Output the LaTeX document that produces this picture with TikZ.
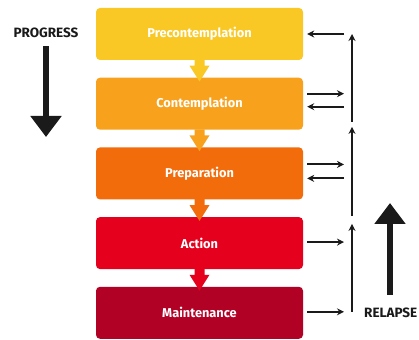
\documentclass[tikz,border=0pt]{standalone}
\usepackage{fontspec}
\setmainfont{Fira Sans}
\usepackage{tikz}
\usetikzlibrary{positioning, arrows.meta, calc}

\definecolor{stageA}{HTML}{F9C824}
\definecolor{stageB}{HTML}{F8A11C}
\definecolor{stageC}{HTML}{F36C0B}
\definecolor{stageD}{HTML}{E5011D}
\definecolor{stageE}{HTML}{B10125}
\definecolor{ink}{HTML}{1A1A1A}

\begin{document}
\begin{tikzpicture}[
    x=1pt, y=1pt,
    node distance=17.3pt and 2cm,
    stage/.style={rectangle, rounded corners=4pt, minimum height=52pt, minimum width=207pt, align=center, text=white, font=\fontsize{12.8}{14}\selectfont\bfseries},
    arrow/.style={-{Stealth[length=7pt, width=7pt]}, line width=1.8pt, ink},
    bigarrow/.style={-{Triangle[length=21pt, width=30pt]}, line width=6.5pt, ink},
    caption/.style={font=\fontsize{13.5}{15}\selectfont\bfseries, text=ink, inner sep=0pt}
]
\useasboundingbox (0,0) rectangle (419,339);

\node[stage, fill=stageA] (precon) at (199.5, 305) {Precontemplation};
\node[stage, fill=stageB, below=of precon] (contem) {Contemplation};
\node[stage, fill=stageC, below=of contem] (prep) {Preparation};
\node[stage, fill=stageD, below=of prep] (action) {Action};
\node[stage, fill=stageE, below=of action] (maint) {Maintenance};

\foreach \a/\b/\c in {precon/contem/stageA, contem/prep/stageB, prep/action/stageC, action/maint/stageD}
  \fill[\c] ($(\a.south)+(-5,0.5)$) -- ++(0,-6) -- ++(-5,0) -- ($(\b.north)+(0,-4)$) -- ($(\a.south)+(10,-5.5)$) -- ++(-5,0) -- ++(0,6) -- cycle;

\coordinate (rail) at (352, 0);
\coordinate (r1) at (rail |- precon.center);
\coordinate (r2a) at ($(rail |- contem.center)+(0,10)$);
\coordinate (r2b) at ($(rail |- contem.center)+(0,-3)$);
\coordinate (r3a) at ($(rail |- prep.center)+(0,9)$);
\coordinate (r3b) at ($(rail |- prep.center)+(0,-5)$);
\coordinate (r4) at ($(rail |- action.center)+(0,1)$);
\coordinate (r5) at ($(rail |- maint.center)+(0,1)$);

\draw[arrow] ([xshift=-8]r1) -- ([xshift=4]precon.east |- r1);
\draw[arrow] ([xshift=4]contem.east |- r2a) -- ([xshift=-8]r2a);
\draw[arrow] ([xshift=-8]r2b) -- ([xshift=4]contem.east |- r2b);
\draw[arrow] ([xshift=4]prep.east |- r3a) -- ([xshift=-8]r3a);
\draw[arrow] ([xshift=-8]r3b) -- ([xshift=4]prep.east |- r3b);
\draw[arrow] ([xshift=4]action.east |- r4) -- ([xshift=-8]r4);
\draw[arrow] ([xshift=4]maint.east |- r5) -- ([xshift=-8]r5);

\draw[arrow] (r5) -- ([yshift=-7]r4 |- action.north);
\draw[arrow] ([yshift=1]r4 |- action.north) -- ([yshift=3]rail |- contem.south);
\draw[arrow] ([yshift=8]rail |- contem.south) -- (r1);

\node[caption] (progress) at (46, 306) {PROGRESS};
\coordinate (progtip) at (46, 202);
\draw[bigarrow] ([yshift=-8]progress.south) -- (progtip);

\node[caption, anchor=west] (relapse) at (364, 26) {RELAPSE};
\coordinate (reltip) at (390, 136);
\draw[bigarrow] (390, 44) -- (reltip);

\end{tikzpicture}
\end{document}
